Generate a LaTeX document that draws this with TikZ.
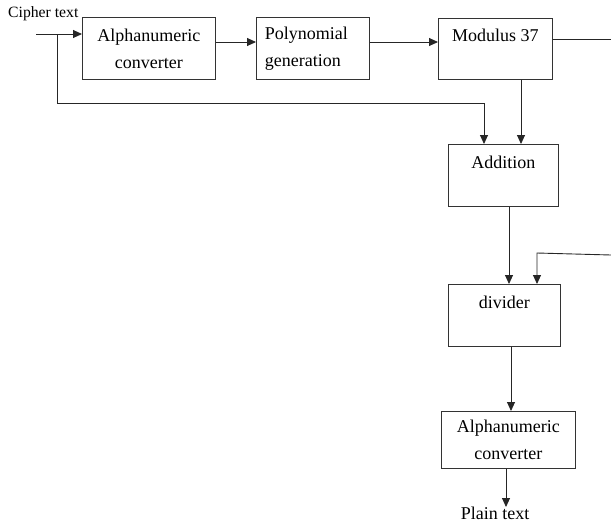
\documentclass[tikz,border=0pt]{standalone}
\usepackage{fontspec}
\setmainfont{Liberation Serif}
\usetikzlibrary{arrows.meta}

\begin{document}
\begin{tikzpicture}[x=1pt, y=-1pt]
	% Define the styles for the blocks and the arrows
	\tikzset{
		block/.style={draw=black!80, line width=0.9pt, align=center, anchor=north west,
			inner sep=0pt, font=\fontsize{18}{27}\selectfont},
		flow/.style={draw=black!85, line width=0.9pt},
		flow arrow/.style={flow, -{Triangle[length=9pt, width=8pt]}}
	}
	
	% Fix the size of the page
	\useasboundingbox (0, 0) rectangle (611, 531);
	
	% Draw the blocks of the first row
	\node[block, minimum width=133pt, minimum height=62pt] (alphaone) at (82, 17) {Alphanumeric\\converter};
	\node[block, minimum width=113pt, minimum height=62pt, align=left, text width=96pt] (poly) at (256, 17) {Polynomial\\generation};
	\node[block, minimum width=114pt, minimum height=61pt] (modulus) at (438, 18) {Modulus 37\\\mbox{}};
	
	% Draw the blocks of the column
	\node[block, minimum width=110pt, minimum height=62pt] (addition) at (448, 144) {Addition\\\mbox{}};
	\node[block, minimum width=112pt, minimum height=62pt] (divider) at (448, 284) {divider\\\mbox{}};
	\node[block, minimum width=134pt, minimum height=57pt] (alphatwo) at (441, 411) {Alphanumeric\\converter};
	
	% Add the texts at the input and the output
	\node[anchor=base west, inner sep=0pt, font=\fontsize{15.7}{18}\selectfont] (cipher) at (8, 17) {Cipher text};
	\node[anchor=north, inner sep=0pt, font=\fontsize{18}{22}\selectfont] (plain) at (495, 507) {Plain text};
	
	% Free ends of the lines
	\coordinate (input) at (36, 34);
	\coordinate (modout) at (611, 39);
	\coordinate (divin) at (611, 255);
	
	% Draw the arrows of the first row
	\draw[flow arrow] (input) -- (input -| alphaone.west);
	\draw[flow arrow] (alphaone.east |- 0, 42) -- (poly.west |- 0, 42);
	\draw[flow arrow] (poly.east |- 0, 42) -- (modulus.west |- 0, 42);
	\draw[flow] (modulus.east |- modout) -- (modout);
	
	% Draw the feedback line to the addition block
	\draw[flow arrow] (57, 34) -- (57, 103) -- (484, 103) -- (addition.north -| 484, 0);
	\draw[flow arrow] (modulus.south -| 521, 0) -- (addition.north -| 521, 0);
	
	% Draw the arrows down the column
	\draw[flow arrow] (addition.south -| 509, 0) -- (divider.north -| 509, 0);
	\draw[flow arrow] (divin) -- (537, 253) -- (divider.north -| 537, 0);
	\draw[flow arrow] (divider.south -| 511, 0) -- (alphatwo.north -| 511, 0);
	\draw[flow arrow] (alphatwo.south -| 506, 0) -- (plain.north -| 506, 0);
	
\end{tikzpicture}
\end{document}
